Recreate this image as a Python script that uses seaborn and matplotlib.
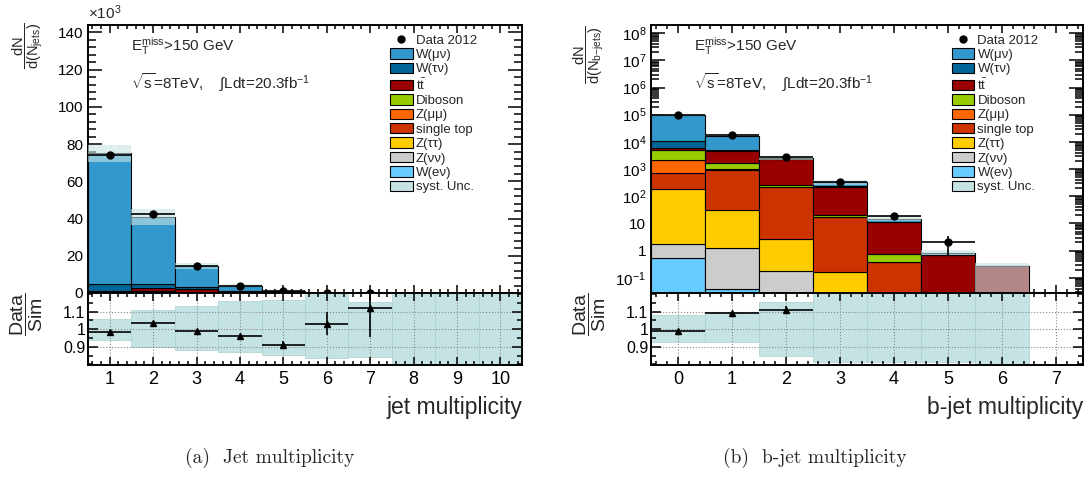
import numpy as np
import pandas as pd
import matplotlib
matplotlib.use('Agg')
import matplotlib.pyplot as plt
from matplotlib.patches import Patch
from matplotlib.lines import Line2D
from matplotlib.ticker import MultipleLocator, LogLocator, FuncFormatter, NullFormatter, FixedLocator
import seaborn as sns

sns.set_theme(style='ticks')
plt.rcParams['font.family'] = ['Liberation Sans', 'DejaVu Sans']
plt.rcParams['mathtext.fontset'] = 'custom'
plt.rcParams['mathtext.rm'] = 'Liberation Sans'
plt.rcParams['mathtext.it'] = 'Liberation Sans:italic'
plt.rcParams['mathtext.bf'] = 'Liberation Sans:bold'

# processes, listed top of stack first (same as legend)
procs = ['W(μν)', 'W(τν)', r'$\mathrm{t\bar{t}}$', 'Diboson', 'Z(μμ)',
         'single top', 'Z(ττ)', 'Z(νν)', 'W(eν)']
colors = ['#3399cc', '#006699', '#990000', '#99cc00', '#ff6600',
          '#cc3300', '#ffcc00', '#cccccc', '#66ccff']
band_color = '#c6e3e3'

# ---- jet multiplicity (x10^3 events) ----
jet_bins = [1, 2, 3, 4, 5, 6, 7, 8, 9, 10]
jet_wmunu = [70.3, 36.2, 11.3, 2.8, 0.55, 0.14, 0.033, 0.008, 0.002, 0.0005]
jet_wtaunu = [4.0, 2.35, 1.1, 0.55, 0.15, 0.04, 0.01, 0.003, 0.001, 0.0002]
jet_ttbar = [0.2, 1.6, 1.6, 0.5, 0.25, 0.06, 0.015, 0.004, 0.001, 0.0003]
jet_diboson = [0.5, 0.45, 0.25, 0.08, 0.02, 0.005, 0.001, 0, 0, 0]
jet_zmumu = [0.2, 0.15, 0.05, 0.02, 0.005, 0.001, 0, 0, 0, 0]
jet_stop = [0.05, 0.2, 0.1, 0.04, 0.01, 0.003, 0.001, 0, 0, 0]
jet_ztautau = [0.02, 0.01, 0.005, 0.001, 0, 0, 0, 0, 0, 0]
jet_znunu = [0.01, 0.01, 0.005, 0.001, 0, 0, 0, 0, 0, 0]
jet_wenu = [0.02, 0.01, 0.005, 0.001, 0, 0, 0, 0, 0, 0]
jet_data = [74.2, 42.6, 14.25, 3.83, 0.91, 0.26, 0.067, np.nan, np.nan, np.nan]
jet_data_err = [0.27, 0.21, 0.12, 0.06, 0.03, 0.016, 0.008, 0, 0, 0]
jet_band_lo = [0.936, 0.898, 0.88, 0.87, 0.851, 0.834, 0.842, 0.7, 0.7, 0.7]
jet_band_hi = [1.055, 1.106, 1.13, 1.157, 1.164, 1.25, 1.153, 1.3, 1.3, 1.3]
jet_ratio = [0.985, 1.035, 0.99, 0.96, 0.91, 1.03, 1.12, np.nan, np.nan, np.nan]
jet_ratio_err = [0.004, 0.005, 0.008, 0.012, 0.025, 0.065, 0.165, 0, 0, 0]

# ---- b-jet multiplicity (events) ----
bjet_bins = [0, 1, 2, 3, 4, 5, 6, 7]
bjet_wmunu = [84300, 12000, 150, 95, 3.5, 0.15, 0, 0]
bjet_wtaunu = [4700, 600, 50, 10, 0, 0, 0, 0]
bjet_ttbar = [1100, 2800, 2130, 200, 10.3, 0.7, 0.27, 0]
bjet_diboson = [2660, 700, 50, 3, 0.33, 0, 0, 0]
bjet_zmumu = [1540, 110, 5, 0.3, 0, 0, 0, 0]
bjet_stop = [515, 859, 212, 17, 0.39, 0, 0, 0]
bjet_ztautau = [183, 29.7, 2.4, 0.14, 0, 0, 0, 0]
bjet_znunu = [1.15, 1.26, 0.175, 0.02, 0, 0, 0, 0]
bjet_wenu = [0.55, 0.04, 0.005, 0, 0, 0, 0, 0]
bjet_data = [93800, 18600, 2890, 345, 19, 2.1, np.nan, np.nan]
bjet_data_err = [306, 136, 54, 19, 4.4, 1.4, 0, 0]
bjet_band_lo = [0.928, 0.928, 0.849, 0.815, 0.815, 0.815, 0.01, np.nan]
bjet_band_hi = [1.079, 1.1, 1.155, 1.25, 1.25, 1.25, 1.3, np.nan]
bjet_ratio = [0.987, 1.089, 1.11, np.nan, np.nan, np.nan, np.nan, np.nan]
bjet_ratio_err = [0.004, 0.008, 0.02, 0, 0, 0, 0, 0]

jet_comps = [jet_wmunu, jet_wtaunu, jet_ttbar, jet_diboson, jet_zmumu,
             jet_stop, jet_ztautau, jet_znunu, jet_wenu]
bjet_comps = [bjet_wmunu, bjet_wtaunu, bjet_ttbar, bjet_diboson, bjet_zmumu,
              bjet_stop, bjet_ztautau, bjet_znunu, bjet_wenu]


def style_axis(ax, ylen=10):
    ax.tick_params(which='both', direction='in', top=True, right=True,
                   width=1.1, colors='black')
    ax.tick_params(axis='x', which='major', length=6)
    ax.tick_params(axis='x', which='minor', length=3)
    ax.tick_params(axis='y', which='major', length=ylen)
    ax.tick_params(axis='y', which='minor', length=ylen * 0.55)
    for s in ax.spines.values():
        s.set_linewidth(1.4)
        s.set_color('black')


def draw(ax, ax_r, bins, comps, data, data_err, lo, hi, ratio, ratio_err):
    bins = np.array(bins)
    df = pd.DataFrame({'x': np.tile(bins, len(procs)),
                       'w': np.concatenate([np.array(c, float) for c in comps]),
                       'proc': np.repeat(procs, len(bins))})
    sns.histplot(data=df, x='x', weights='w', hue='proc', hue_order=procs,
                 palette=dict(zip(procs, colors)), multiple='stack',
                 discrete=True, shrink=1, alpha=1, edgecolor='black',
                 linewidth=0.8, legend=False, ax=ax)
    mc = np.sum(np.array(comps, float), axis=0)
    lo = np.array(lo, float)
    hi = np.array(hi, float)
    ok = ~np.isnan(lo)
    ax.bar(bins[ok], (mc * (hi - lo))[ok], bottom=(mc * lo)[ok], width=1,
           color=band_color, alpha=0.6, linewidth=0, zorder=3)
    ax.errorbar(bins, data, yerr=data_err, xerr=0.5, fmt='o', color='black',
                ms=5, elinewidth=1.2, capsize=0, zorder=5)

    ax_r.bar(bins[ok], (hi - lo)[ok], bottom=lo[ok], width=1, color=band_color,
             edgecolor='#a9d1d1', linewidth=0.5, zorder=1)
    ax_r.errorbar(bins, ratio, yerr=ratio_err, xerr=0.5, fmt='^', color='black',
                  ms=5, elinewidth=1.2, capsize=0, zorder=5)
    ax_r.set_ylim(0.797, 1.205)
    ax_r.yaxis.set_major_locator(FixedLocator([0.9, 1.0, 1.1]))
    ax_r.yaxis.set_major_formatter(FuncFormatter(lambda v, p: '%g' % round(v, 2)))
    ax_r.yaxis.set_minor_locator(MultipleLocator(0.05))
    ax_r.set_axisbelow(False)
    ax_r.grid(True, which='major', ls=':', color='#888888', lw=0.8)

    for a in (ax, ax_r):
        a.set_xlim(bins[0] - 0.5, bins[-1] + 0.5)
        a.set_xticks(bins)
        a.xaxis.set_minor_locator(MultipleLocator(0.2))
    style_axis(ax, 10)
    style_axis(ax_r, 7)
    ax.tick_params(axis='x', labelbottom=False)
    ax.tick_params(axis='y', labelsize=11)
    ax_r.tick_params(axis='x', labelsize=13, pad=4)
    ax_r.tick_params(axis='y', labelsize=11.5, pad=2)
    ax.set_xlabel('')
    ax_r.set_ylabel(r'$\dfrac{\mathrm{Data}}{\mathrm{Sim}}$', fontsize=14,
                    loc='top')
    ax_r.yaxis.set_label_coords(-0.1, 1.0)

    ax.text(0.1, 0.92, r'$\mathrm{E_{T}^{miss}}$>150 GeV', transform=ax.transAxes,
            fontsize=11, va='center')
    ax.text(0.1, 0.788, r'$\sqrt{\mathrm{s}}$=8TeV,    $\int$Ldt=20.3fb$^{-1}$',
            transform=ax.transAxes, fontsize=11, va='center')

    handles = [Line2D([], [], marker='o', color='black', ls='none', ms=5)]
    handles += [Patch(facecolor=c, edgecolor='black', lw=0.8) for c in colors]
    handles += [Patch(facecolor=band_color, edgecolor='black', lw=0.8)]
    labels = ['Data 2012'] + procs + ['syst. Unc.']
    ax.legend(handles, labels, loc='upper left', bbox_to_anchor=(0.69, 0.977),
              frameon=False, fontsize=9.5, handlelength=1.7, handleheight=0.85,
              labelspacing=0.12, handletextpad=0.25, borderpad=0.2,
              borderaxespad=0)


fig = plt.figure(figsize=(10.9, 4.8), dpi=100)
W, H = 1090.0, 480.0
axL = fig.add_axes([88 / W, 1 - 293 / H, 434 / W, 268 / H])
axLr = fig.add_axes([88 / W, 1 - 365 / H, 434 / W, 72 / H])
axR = fig.add_axes([651 / W, 1 - 293 / H, 432 / W, 268 / H])
axRr = fig.add_axes([651 / W, 1 - 365 / H, 432 / W, 72 / H])

draw(axL, axLr, jet_bins, jet_comps, jet_data, jet_data_err,
     jet_band_lo, jet_band_hi, jet_ratio, jet_ratio_err)
draw(axR, axRr, bjet_bins, bjet_comps, bjet_data, bjet_data_err,
     bjet_band_lo, bjet_band_hi, bjet_ratio, bjet_ratio_err)

# left: linear axis in units of 10^3
axL.set_ylim(0, 144)
axL.yaxis.set_major_locator(MultipleLocator(20))
axL.yaxis.set_minor_locator(MultipleLocator(4))
axL.set_ylabel(r'$\dfrac{\mathrm{dN}}{\mathrm{d(N_{jets})}}$', fontsize=10.5,
               loc='top')
axL.yaxis.set_label_coords(-0.1, 1.01)
fig.text(88 / W, 1 - 13 / H, r'$\times10^{3}$', fontsize=11, va='center')
axLr.set_xlabel('jet multiplicity', fontsize=16.5, loc='right', labelpad=6)

# right: log axis
axR.set_yscale('log')
axR.set_ylim(10 ** -1.56, 10 ** 8.3)
axR.yaxis.set_major_locator(LogLocator(base=10, numticks=20))
axR.yaxis.set_minor_locator(LogLocator(base=10, subs=np.arange(2, 10), numticks=200))
axR.yaxis.set_minor_formatter(NullFormatter())


def logfmt(v, p):
    e = int(round(np.log10(v)))
    if e == 0:
        return '1'
    if e == 1:
        return '10'
    return r'$10^{%d}$' % e


axR.yaxis.set_major_formatter(FuncFormatter(logfmt))
axR.set_ylabel(r'$\dfrac{\mathrm{dN}}{\mathrm{d(N_{b\mathrm{-}jets})}}$', fontsize=10.5,
               loc='top')
axR.yaxis.set_label_coords(-0.104, 1.0)
axRr.set_xlabel('b-jet multiplicity', fontsize=16.5, loc='right', labelpad=6)

fig.text(270 / W, 1 - 458 / H, '(a)  Jet multiplicity', family='cmr10',
         fontsize=14, ha='center', va='center')
fig.text(815 / W, 1 - 458 / H, '(b)  b-jet multiplicity', family='cmr10',
         fontsize=14, ha='center', va='center')

fig.savefig('out.png', dpi=100)
